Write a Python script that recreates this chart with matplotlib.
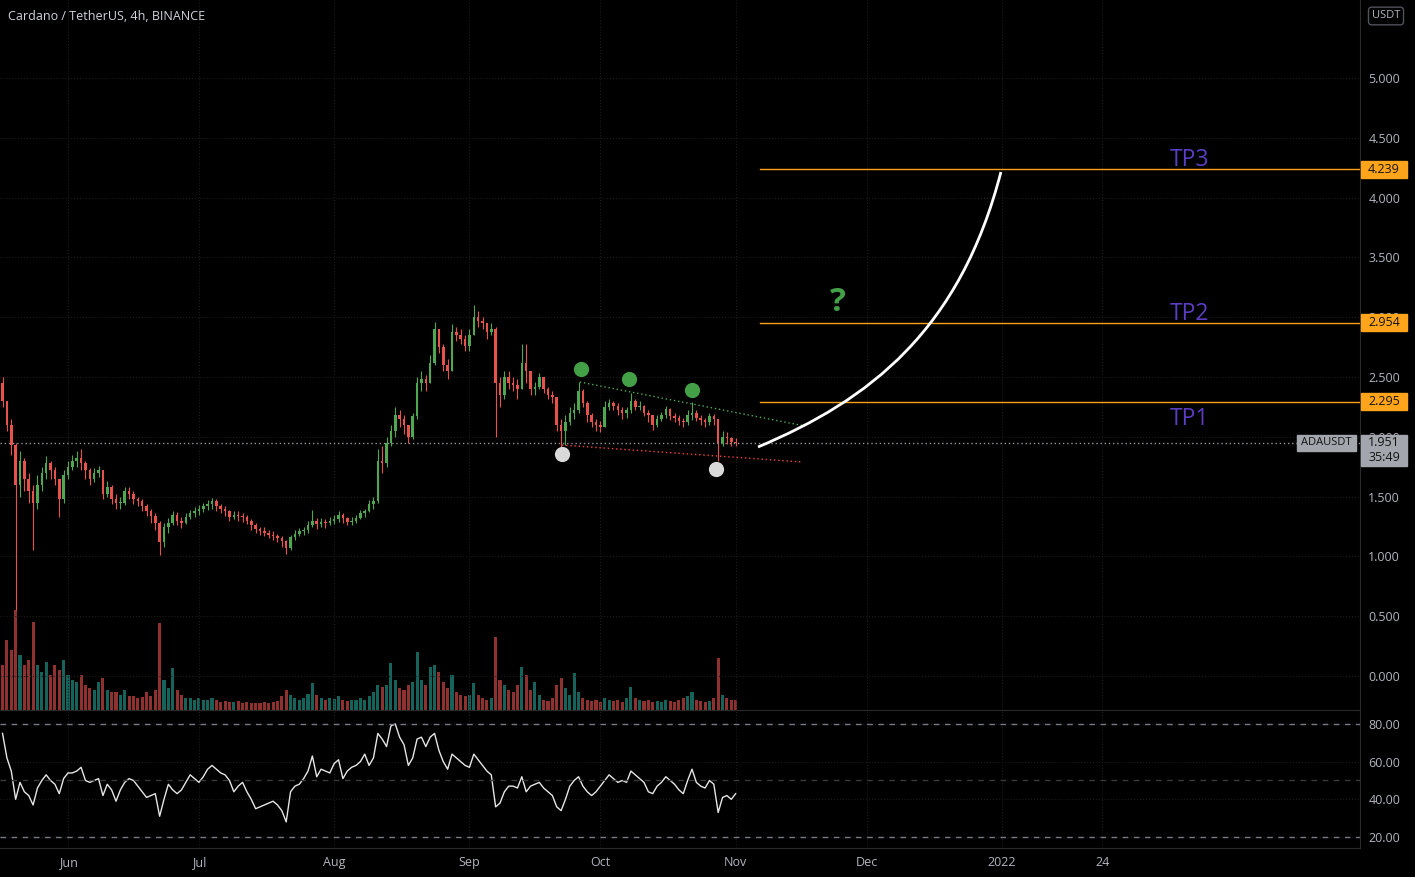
# ADA/USDT 4h chart with volume, RSI and target drawings
import matplotlib
matplotlib.use('Agg')
import matplotlib.pyplot as plt
import matplotlib.dates as mdates
from matplotlib.path import Path
from matplotlib.patches import PathPatch, Rectangle
import matplotlib.ticker as ticker
import numpy as np
import pandas as pd

# ---- daily candles (May 17 .. Nov 1) ----
first_open = 2.45
close = [2.30, 2.10, 1.93, 1.60, 1.80, 1.65, 1.55, 1.45, 1.60, 1.70,
         1.78, 1.72, 1.65, 1.48, 1.68, 1.75, 1.80, 1.82, 1.78, 1.72,
         1.65, 1.70, 1.72, 1.52, 1.58, 1.48, 1.45, 1.45, 1.55, 1.52,
         1.48, 1.46, 1.42, 1.38, 1.34, 1.28, 1.12, 1.25, 1.28, 1.35,
         1.30, 1.28, 1.33, 1.36, 1.38, 1.40, 1.42, 1.44, 1.46, 1.42,
         1.40, 1.38, 1.33, 1.35, 1.34, 1.33, 1.30, 1.26, 1.23, 1.21,
         1.20, 1.18, 1.17, 1.15, 1.13, 1.07, 1.16, 1.19, 1.21, 1.22,
         1.26, 1.30, 1.27, 1.29, 1.28, 1.30, 1.31, 1.35, 1.32, 1.29,
         1.30, 1.32, 1.36, 1.38, 1.44, 1.46, 1.80, 1.78, 1.95, 2.05,
         2.18, 2.15, 2.10, 2.00, 2.17, 2.45, 2.48, 2.45, 2.62, 2.90,
         2.75, 2.60, 2.55, 2.88, 2.85, 2.82, 2.76, 2.85, 3.00, 2.97,
         2.95, 2.88, 2.90, 2.45, 2.35, 2.50, 2.45, 2.43, 2.40, 2.62,
         2.55, 2.40, 2.42, 2.50, 2.40, 2.35, 2.33, 2.10, 2.05, 2.12,
         2.20, 2.22, 2.38, 2.28, 2.18, 2.12, 2.10, 2.08, 2.25, 2.28,
         2.26, 2.22, 2.20, 2.22, 2.30, 2.25, 2.26, 2.20, 2.18, 2.10,
         2.15, 2.18, 2.23, 2.17, 2.16, 2.13, 2.12, 2.18, 2.20, 2.16,
         2.14, 2.12, 2.17, 2.15, 1.95, 2.00, 1.99, 1.96, 1.951]
high = [2.50, 2.30, 2.15, 1.95, 1.88, 1.82, 1.70, 1.60, 1.68, 1.75,
        1.84, 1.80, 1.75, 1.65, 1.72, 1.80, 1.85, 1.88, 1.90, 1.80,
        1.74, 1.74, 1.76, 1.72, 1.63, 1.60, 1.52, 1.50, 1.58, 1.58,
        1.55, 1.50, 1.48, 1.44, 1.40, 1.36, 1.30, 1.28, 1.32, 1.38,
        1.37, 1.33, 1.36, 1.39, 1.41, 1.43, 1.45, 1.47, 1.49, 1.48,
        1.44, 1.42, 1.39, 1.38, 1.38, 1.36, 1.35, 1.31, 1.28, 1.25,
        1.25, 1.22, 1.21, 1.19, 1.17, 1.14, 1.18, 1.22, 1.24, 1.25,
        1.30, 1.39, 1.32, 1.32, 1.31, 1.33, 1.35, 1.38, 1.36, 1.33,
        1.33, 1.35, 1.39, 1.40, 1.47, 1.50, 1.90, 1.92, 2.00, 2.10,
        2.25, 2.22, 2.18, 2.10, 2.20, 2.50, 2.55, 2.52, 2.68, 2.96,
        2.90, 2.78, 2.65, 2.94, 2.92, 2.90, 2.85, 2.90, 3.10, 3.05,
        3.00, 2.95, 2.95, 2.92, 2.50, 2.55, 2.55, 2.50, 2.48, 2.78,
        2.78, 2.55, 2.46, 2.53, 2.50, 2.42, 2.38, 2.33, 2.15, 2.18,
        2.25, 2.28, 2.46, 2.40, 2.30, 2.20, 2.15, 2.13, 2.30, 2.32,
        2.30, 2.28, 2.25, 2.25, 2.37, 2.32, 2.30, 2.27, 2.22, 2.18,
        2.18, 2.21, 2.26, 2.24, 2.20, 2.18, 2.16, 2.22, 2.29, 2.22,
        2.18, 2.16, 2.20, 2.19, 2.15, 2.05, 2.04, 2.00, 1.99]
low = [2.25, 2.05, 1.85, 0.55, 1.50, 1.55, 1.45, 1.05, 1.40, 1.55,
       1.65, 1.65, 1.60, 1.33, 1.45, 1.65, 1.72, 1.75, 1.72, 1.65,
       1.60, 1.62, 1.66, 1.48, 1.50, 1.44, 1.40, 1.40, 1.43, 1.48,
       1.44, 1.42, 1.38, 1.34, 1.28, 1.22, 1.01, 1.08, 1.20, 1.26,
       1.26, 1.24, 1.27, 1.31, 1.33, 1.35, 1.37, 1.39, 1.40, 1.38,
       1.36, 1.34, 1.30, 1.31, 1.30, 1.29, 1.27, 1.22, 1.20, 1.18,
       1.17, 1.15, 1.14, 1.12, 1.08, 1.02, 1.05, 1.14, 1.17, 1.18,
       1.20, 1.25, 1.23, 1.25, 1.24, 1.26, 1.27, 1.29, 1.28, 1.26,
       1.26, 1.28, 1.31, 1.33, 1.37, 1.40, 1.45, 1.70, 1.75, 1.92,
       2.00, 2.08, 2.02, 1.95, 1.98, 2.15, 2.38, 2.38, 2.45, 2.60,
       2.70, 2.55, 2.48, 2.55, 2.80, 2.78, 2.72, 2.72, 2.85, 2.92,
       2.90, 2.82, 2.85, 2.00, 2.25, 2.32, 2.40, 2.38, 2.32, 2.40,
       2.45, 2.35, 2.35, 2.40, 2.37, 2.32, 2.28, 2.05, 1.91, 1.93,
       2.10, 2.15, 2.20, 2.25, 2.12, 2.08, 2.05, 2.04, 2.08, 2.22,
       2.22, 2.18, 2.15, 2.16, 2.20, 2.22, 2.22, 2.17, 2.12, 2.06,
       2.08, 2.13, 2.16, 2.14, 2.12, 2.10, 2.08, 2.10, 2.14, 2.13,
       2.10, 2.08, 2.10, 2.10, 1.80, 1.92, 1.94, 1.92, 1.92]
volume = [45, 70, 60, 100, 55, 45, 50, 88, 45, 38,
          48, 35, 45, 40, 50, 35, 30, 28, 35, 25,
          22, 20, 28, 32, 20, 18, 18, 15, 20, 14,
          14, 12, 13, 18, 14, 20, 87, 30, 22, 42,
          20, 15, 12, 12, 10, 12, 10, 10, 12, 10,
          8, 9, 8, 8, 9, 7, 8, 7, 7, 7,
          8, 7, 8, 9, 14, 20, 15, 12, 10, 12,
          16, 27, 15, 12, 10, 12, 11, 14, 10, 9,
          10, 10, 12, 10, 14, 18, 25, 23, 25, 47,
          30, 22, 20, 25, 28, 58, 30, 25, 43, 45,
          38, 28, 22, 35, 18, 15, 14, 15, 27, 15,
          12, 10, 12, 73, 30, 25, 20, 18, 25, 43,
          35, 20, 28, 15, 10, 9, 12, 25, 32, 22,
          15, 37, 18, 12, 10, 9, 10, 8, 12, 10,
          9, 10, 8, 12, 23, 12, 10, 9, 10, 8,
          9, 8, 10, 9, 8, 10, 12, 14, 18, 10,
          9, 8, 9, 12, 52, 15, 12, 10, 10]
rsi = [75, 62, 55, 40, 49, 44, 42, 37, 46, 50,
       53, 50, 48, 43, 51, 54, 54, 55, 57, 50,
       49, 50, 51, 42, 48, 45, 39, 45, 49, 51,
       50, 47, 44, 41, 42, 43, 31, 40, 48, 45,
       43, 45, 49, 53, 51, 49, 52, 56, 58, 56,
       54, 53, 50, 44, 47, 49, 44, 40, 35, 36,
       37, 38, 39, 37, 34, 28, 44, 47, 48, 51,
       55, 63, 52, 56, 55, 54, 59, 61, 51, 55,
       57, 58, 60, 64, 58, 62, 75, 72, 68, 79,
       80, 73, 69, 58, 62, 72, 73, 68, 73, 75,
       66, 60, 56, 64, 62, 60, 58, 57, 64, 61,
       58, 55, 53, 36, 38, 44, 47, 47, 46, 52,
       44, 47, 48, 49, 46, 44, 42, 36, 34, 40,
       47, 50, 52, 47, 44, 42, 44, 47, 50, 53,
       51, 49, 50, 49, 55, 53, 51, 49, 44, 43,
       47, 49, 52, 50, 48, 45, 43, 50, 56, 49,
       47, 46, 50, 48, 33, 41, 42, 40, 43]
dates = pd.date_range('2021-05-17', periods=len(close), freq='D')

# ---- drawings on the chart ----
resistance_dates = ['2021-09-26 07:00', '2021-11-16 22:00']
resistance_prices = [2.458, 2.090]
support_dates = ['2021-09-22 05:00', '2021-11-16 10:00']
support_prices = [1.931, 1.789]
top_dates = ['2021-09-26 12:00', '2021-10-07 13:00', '2021-10-22 00:00']
top_prices = [2.567, 2.483, 2.391]
bottom_dates = ['2021-09-22 05:00', '2021-10-27 12:00']
bottom_prices = [1.854, 1.731]
target_names = ['TP1', 'TP2', 'TP3']
target_prices = [2.295, 2.954, 4.239]
target_label_prices = [2.150, 3.025, 4.315]
target_start = '2021-11-06 14:00'
target_label_date = '2022-02-13 00:00'
curve_dates = ['2021-11-06 03:00', '2021-12-01 19:00', '2021-12-22 10:00', '2021-12-31 19:00']
curve_prices = [1.915, 2.308, 2.893, 4.214]
question_date = '2021-11-24 10:00'
question_price = 3.119
last_price = 1.951

price_ticks = [0, 0.5, 1.0, 1.5, 2.0, 2.5, 3.0, 3.5, 4.0, 4.5, 5.0]
rsi_ticks = [20, 40, 60, 80]
time_ticks = ['2021-06-01', '2021-07-01', '2021-08-01', '2021-09-01', '2021-10-01',
              '2021-11-01', '2021-12-01', '2022-01-01', '2022-01-24']
time_labels = ['Jun', 'Jul', 'Aug', 'Sep', 'Oct', 'Nov', 'Dec', '2022', '24']


def num(ds):
    return mdates.date2num(pd.to_datetime(ds).to_pydatetime())


plt.rcParams['font.family'] = ['Open Sans', 'DejaVu Sans']
UP, DOWN = '#4fa84f', '#e5534b'
TXT = '#b2b5be'
GRID = '#1c1c1c'

W, H = 1415, 877
fig = plt.figure(figsize=(W / 100, H / 100), dpi=100, facecolor='black')
ax = fig.add_axes([0, 167 / H, 1360 / W, 710 / H])
axr = fig.add_axes([0, 29 / H, 1360 / W, 137 / H], sharex=ax)
axv = ax.twinx()
axv.set_zorder(0)
ax.set_zorder(1)
ax.patch.set_visible(False)
axr.set_facecolor('black')

x = num(dates)
c = np.array(close)
o = np.array([first_open] + close[:-1])
h = np.maximum(np.array(high), np.maximum(o, c))
l = np.minimum(np.array(low), np.minimum(o, c))
up = c >= o
col = np.where(up, UP, DOWN)

# candles
ax.vlines(x, l, h, colors=col, lw=0.8, zorder=3)
ax.bar(x, np.maximum(np.abs(c - o), 0.004), bottom=np.minimum(o, c), width=0.6,
       color=col, zorder=3)

# volume overlay
axv.bar(x, volume, width=0.7, color=np.where(up, '#26a69a99', '#ef535099'))
axv.set_ylim(0, 710)
axv.set_axis_off()

xmin, xmax = num(['2021-05-16 10:00', '2022-03-24 02:00'])
ax.set_xlim(xmin, xmax)
ax.set_ylim(-0.284, 5.652)

# pattern lines and markers
ax.plot(num(resistance_dates), resistance_prices, color='#4caf50', ls=(0, (1, 2)), lw=1, zorder=4)
ax.plot(num(support_dates), support_prices, color='#f44336', ls=(0, (1, 2)), lw=1, zorder=4)
ax.scatter(num(top_dates), top_prices, s=120, color='#43a047', zorder=6, linewidths=0)
ax.scatter(num(bottom_dates), bottom_prices, s=120, color='#d9d9d9', zorder=6, linewidths=0)

# targets
t0 = num([target_start])[0]
tl = num([target_label_date])[0]
for name, p, lp in zip(target_names, target_prices, target_label_prices):
    ax.plot([t0, xmax], [p, p], color='#ff9f1c', lw=1, zorder=4)
    ax.text(tl, lp, name, color='#5b3ec2', fontsize=16.5, ha='center', va='center', zorder=6)

# projected curve
cx = num(curve_dates)
verts = list(zip(cx, curve_prices))
path = Path(verts, [Path.MOVETO, Path.CURVE4, Path.CURVE4, Path.CURVE4])
ax.add_patch(PathPatch(path, fill=False, edgecolor='white', lw=2, zorder=6))
ax.text(num([question_date])[0], question_price, '?', color='#43a047', fontsize=24,
        fontweight='bold', ha='center', va='center', zorder=6)

# last price
ax.axhline(last_price, color='#9598a1', ls=(0, (1, 2)), lw=1, zorder=4)

# price axis
ax.yaxis.tick_right()
ax.set_yticks(price_ticks)
ax.yaxis.set_major_formatter(ticker.FormatStrFormatter('%.3f'))
ax.tick_params(axis='y', length=0, pad=6, labelcolor=TXT, labelsize=9)
ax.tick_params(axis='x', length=0, labelbottom=False)
ax.grid(True, color=GRID, ls=':', lw=0.8)
ax.set_xticks(num(time_ticks))
for s in ['top', 'left']:
    ax.spines[s].set_visible(False)
ax.spines['right'].set_color('#2a2a2a')
ax.spines['bottom'].set_color('#2a2a2a')

yt = ax.get_yaxis_transform()
px = 1.0 / 1360
pp = 1.0 / 119.6
for p in target_prices:
    ax.add_patch(Rectangle((1 + 1 * px, p - 8.5 * pp), 46 * px, 17 * pp, transform=yt,
                           color='#ffa41b', clip_on=False, zorder=7))
    ax.text(1 + 24 * px, p, '%.3f' % p, transform=yt, color='#131313', fontsize=9,
            ha='center', va='center', clip_on=False, zorder=8)

ax.add_patch(Rectangle((1 - 63 * px, last_price - 8 * pp), 59 * px, 16 * pp, transform=yt,
                       color='#a3a6ad', clip_on=False, zorder=7))
ax.text(1 - 33.5 * px, last_price, 'ADAUSDT', transform=yt, color='#131313', fontsize=8,
        ha='center', va='center', zorder=8)
ax.add_patch(Rectangle((1 + 1 * px, last_price - 23 * pp), 46 * px, 31 * pp, transform=yt,
                       color='#a3a6ad', clip_on=False, zorder=7))
ax.text(1 + 24 * px, last_price, '%.3f' % last_price, transform=yt, color='#131313',
        fontsize=9, ha='center', va='center', clip_on=False, zorder=8)
ax.text(1 + 24 * px, last_price - 15 * pp, '35:49', transform=yt, color='#131313',
        fontsize=9, ha='center', va='center', clip_on=False, zorder=8)

# RSI pane
axr.plot(x, rsi, color='#e6e6e6', lw=1.0)
axr.set_ylim(14.15, 86.9)
axr.axhline(80, color='#787b86', ls=(0, (4, 4)), lw=1)
axr.axhline(20, color='#787b86', ls=(0, (4, 4)), lw=1)
axr.axhline(50, color='#3a3a3a', ls=(0, (4, 4)), lw=1)
axr.yaxis.tick_right()
axr.set_yticks(rsi_ticks)
axr.yaxis.set_major_formatter(ticker.FormatStrFormatter('%.2f'))
axr.tick_params(axis='y', length=0, pad=6, labelcolor=TXT, labelsize=9)
axr.set_xticks(num(time_ticks))
axr.set_xticklabels(time_labels)
axr.tick_params(axis='x', length=0, pad=6, labelcolor=TXT, labelsize=9)
axr.grid(True, color=GRID, ls=':', lw=0.8)
for s in ['top', 'left']:
    axr.spines[s].set_visible(False)
axr.spines['right'].set_color('#2a2a2a')
axr.spines['bottom'].set_color('#2a2a2a')
axr.set_xlim(xmin, xmax)

# header texts
fig.text(8 / W, 1 - 16 / H, 'Cardano / TetherUS, 4h, BINANCE', color='#d1d4dc',
         fontsize=9, va='center')
fig.text(1386 / W, 1 - 16 / H, 'USDT', color=TXT, fontsize=8, ha='center', va='center',
         bbox=dict(boxstyle='round,pad=0.3', fc='black', ec='#50535e', lw=1))

fig.savefig('out.png', dpi=100, facecolor='black')
